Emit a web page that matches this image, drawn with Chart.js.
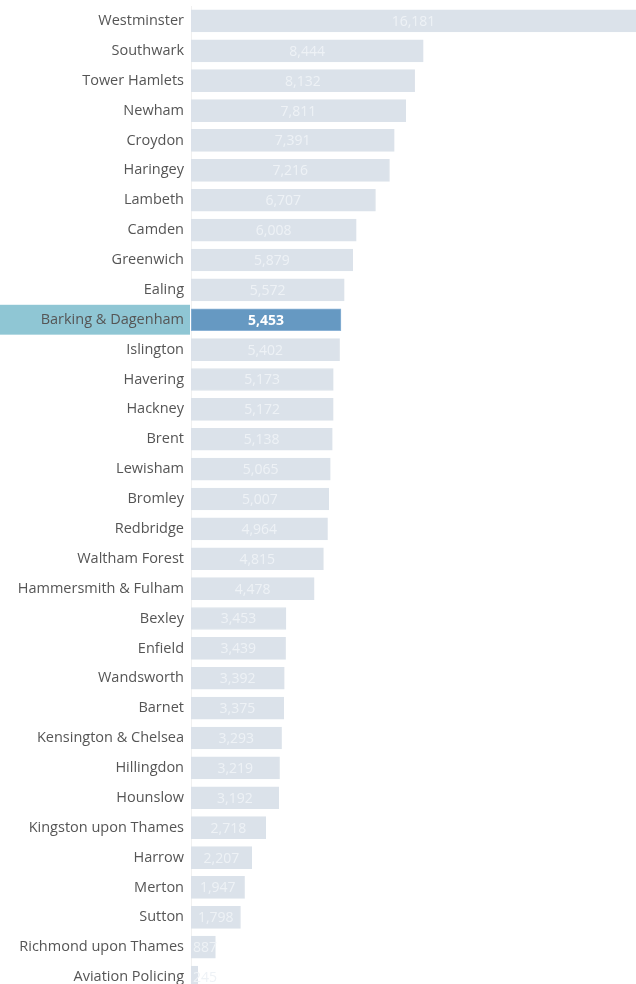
<!DOCTYPE html>
<html lang="en">
<head>
  <meta charset="UTF-8" />
  <title>Offences by borough</title>
  <script src="https://cdn.jsdelivr.net/npm/chart.js"></script>
  <style>
    html, body { margin: 0; padding: 0; background: #fff; overflow: hidden; }
    .wrap { position: relative; width: 636px; height: 992px; }
  </style>
</head>
<body>
  <div class="wrap">
    <canvas id="boroughChart"></canvas>
  </div>

  <script>
    const boroughs = [
      'Westminster', 'Southwark', 'Tower Hamlets', 'Newham', 'Croydon', 'Haringey',
      'Lambeth', 'Camden', 'Greenwich', 'Ealing', 'Barking & Dagenham', 'Islington',
      'Havering', 'Hackney', 'Brent', 'Lewisham', 'Bromley', 'Redbridge',
      'Waltham Forest', 'Hammersmith & Fulham', 'Bexley', 'Enfield', 'Wandsworth',
      'Barnet', 'Kensington & Chelsea', 'Hillingdon', 'Hounslow', 'Kingston upon Thames',
      'Harrow', 'Merton', 'Sutton', 'Richmond upon Thames', 'Aviation Policing'
    ];
    const counts = [
      16181, 8444, 8132, 7811, 7391, 7216,
      6707, 6008, 5879, 5572, 5453, 5402,
      5173, 5172, 5138, 5065, 5007, 4964,
      4815, 4478, 3453, 3439, 3392, 3375,
      3293, 3219, 3192, 2718,
      2207, 1947, 1798, 887, 245
    ];
    const selected = 'Barking & Dagenham';

    const isSel = i => boroughs[i] === selected;
    const fmt = n => n.toLocaleString('en-GB');

    // highlight band behind selected label
    const labelBand = {
      id: 'labelBand',
      beforeDraw(chart) {
        const { ctx, scales: { y } } = chart;
        const i = boroughs.indexOf(selected);
        const step = Math.abs(y.getPixelForValue(1) - y.getPixelForValue(0));
        const cy = y.getPixelForValue(i);
        ctx.save();
        ctx.fillStyle = '#8fc6d4';
        ctx.fillRect(0, cy - step / 2, y.right - 1, step);
        ctx.restore();
      }
    };

    // value labels inside bars
    const valueLabels = {
      id: 'valueLabels',
      afterDatasetsDraw(chart) {
        const { ctx } = chart;
        const meta = chart.getDatasetMeta(0);
        ctx.save();
        ctx.textBaseline = 'middle';
        ctx.textAlign = 'center';
        meta.data.forEach((bar, i) => {
          const txt = fmt(counts[i]);
          ctx.font = isSel(i) ? 'bold 14px "Open Sans"' : '14px "Open Sans"';
          ctx.fillStyle = isSel(i) ? '#ffffff' : '#eef2f6';
          const w = ctx.measureText(txt).width;
          let x = (bar.base + bar.x) / 2;
          if (x - w / 2 < bar.base + 2) x = bar.base + 2 + w / 2;
          ctx.fillText(txt, x, bar.y + 1);
        });
        ctx.restore();
      }
    };

    new Chart(document.getElementById('boroughChart'), {
      type: 'bar',
      data: {
        labels: boroughs,
        datasets: [{
          data: counts,
          backgroundColor: boroughs.map((b, i) => isSel(i) ? '#6699c2' : '#dbe2ea'),
          borderColor: boroughs.map((b, i) => isSel(i) ? '#8cb3d6' : '#dbe2ea'),
          borderWidth: 1,
          borderSkipped: false,
          barThickness: 22
        }]
      },
      options: {
        indexAxis: 'y',
        responsive: true,
        maintainAspectRatio: false,
        animation: false,
        layout: { padding: { top: 6, right: 0, bottom: 0, left: 0 } },
        plugins: { legend: { display: false }, tooltip: { enabled: false } },
        scales: {
          x: {
            min: 0,
            max: 16181,
            display: false
          },
          y: {
            afterFit(scale) {
              scale.width = 191;
              scale.paddingTop = 0;
              scale.paddingBottom = 0;
            },
            grid: { display: false, drawTicks: false, tickLength: 0 },
            border: { display: true, color: '#f0f0f0' },
            ticks: {
              padding: 7,
              color: '#555555',
              font: { family: 'Open Sans', size: 14.5 },
              autoSkip: false
            }
          }
        }
      },
      plugins: [labelBand, valueLabels]
    });
  </script>
</body>
</html>
